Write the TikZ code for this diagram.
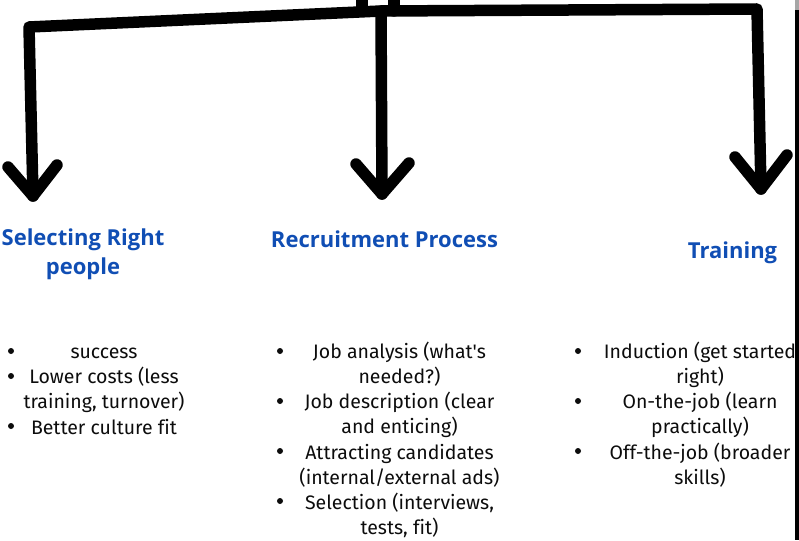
\documentclass[tikz,border=0pt]{standalone}
\usepackage{fontspec}
\setmainfont{Fira Sans}[Ligatures=NoCommon]
\newfontfamily\headfont{Open Sans}
\usetikzlibrary{positioning}
\definecolor{headblue}{RGB}{16,78,180}
\definecolor{bodyink}{RGB}{12,12,12}
\tikzset{
  stroke/.style={line width=11.5pt, line cap=round, line join=round},
  head/.style={font=\headfont\fontsize{22}{29}\selectfont\bfseries, text=headblue, align=center, inner sep=0pt},
  item/.style={font=\fontsize{19.5}{25}\selectfont, text=bodyink, align=center, inner sep=0pt},
  bul/.style={circle, fill=bodyink, inner sep=0pt, minimum size=6pt},
}
\begin{document}
\begin{tikzpicture}[x=1pt, y=-1pt]
  \useasboundingbox (0,0) rectangle (799,540);
  \clip (0,0) rectangle (799,540);
  % hand drawn brace
  \coordinate (cl) at (29,27);
  \coordinate (hub) at (381,11);
  \coordinate (cr) at (757,9);
  \coordinate (tl) at (33,196);
  \coordinate (tm) at (382,194);
  \coordinate (tr) at (761,189);
  \draw[stroke] (362,-10) -- (362,11);
  \draw[stroke] (394,-10) -- (394,11);
  \draw[stroke] (tl) -- (cl) -- (hub) -- (cr) -- (tr);
  \draw[stroke] (hub) -- (tm);
  \draw[stroke] (8,167) -- (tl) -- (57,165);
  \draw[stroke] (356,164) -- (tm) -- (409,163);
  \draw[stroke] (735,157) -- (tr) -- (787,155);
  \fill[black!35] (795,0) rectangle (799,10);
  \fill[black] (795,10) rectangle (799,540);
  % headings
  \node[head, anchor=north] (hsel) at (83,224.7) {\strut Selecting Right\\\strut people};
  \node[head, anchor=base] (hrec) at (384.5,247) {Recruitment Process};
  \node[head, anchor=base] (htra) at (732.5,258) {Training};
  % left column
  \node[item, anchor=north] (l1) at (104,340.5) {\strut success};
  \node[item, below=0pt of l1] (l2) {\strut Lower costs (less\\\strut training, turnover)};
  \node[item, below=0pt of l2] (l3) {\strut Better culture fit};
  % middle column
  \node[item, anchor=north] (m1) at (399.5,340.5) {\strut Job analysis (what\textquotesingle s\\\strut needed?)};
  \node[item, below=0pt of m1] (m2) {\strut Job description (clear\\\strut and enticing)};
  \node[item, below=0pt of m2] (m3) {\strut Attracting candidates\\\strut (internal/external ads)};
  \node[item, below=0pt of m3] (m4) {\strut Selection (interviews,\\\strut tests, fit)};
  % right column
  \node[item, anchor=north] (r1) at (700,340.5) {\strut Induction (get started\\\strut right)};
  \node[item, below=0pt of r1] (r2) {\strut On-the-job (learn\\\strut practically)};
  \node[item, below=0pt of r2] (r3) {\strut Off-the-job (broader\\\strut skills)};
  % bullets
  \foreach \bx/\by/\bn in {11/351/l1, 11/376/l2, 11/426/l3,
    280/351/m1, 280/401/m2, 280/451/m3, 280/501/m4,
    578/351/r1, 578/401/r2, 578/451/r3}
    \node[bul] (b\bn) at (\bx,\by) {};
\end{tikzpicture}
\end{document}
